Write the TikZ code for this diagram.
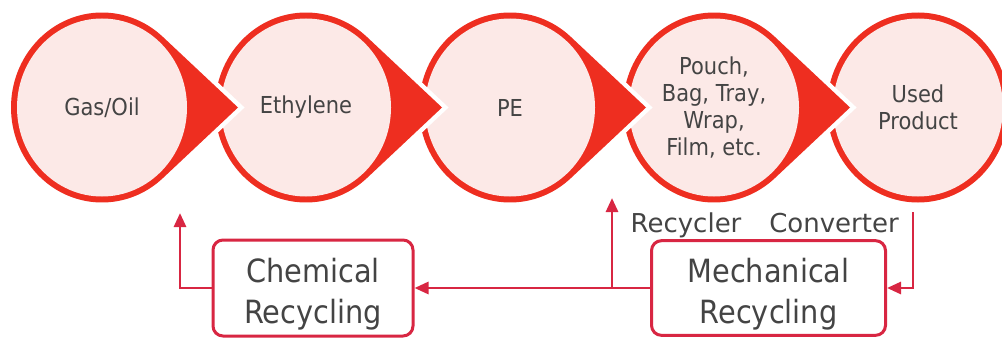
\documentclass[tikz,border=0pt]{standalone}
\usepackage{fontspec}
\setmainfont{DejaVu Sans}
\newfontfamily\condfont[FakeStretch=0.9]{DejaVu Sans}
\usetikzlibrary{arrows.meta,calc}
\definecolor{dropred}{RGB}{238,46,32}
\definecolor{droppink}{RGB}{252,233,231}
\definecolor{crim}{RGB}{216,38,66}
\definecolor{txtgray}{RGB}{68,68,68}
\newcommand\boxtwo[2]{\raisebox{4.5pt}[0pt][0pt]{\begin{tabular}[t]{@{}c@{}}#1\\#2\end{tabular}}}
\begin{document}
\begin{tikzpicture}[x=0.75pt,y=0.75pt,
  ctext/.style={font=\condfont\fontsize{17.5}{20.25}\selectfont, text=txtgray, align=center, inner sep=0pt},
  rbox/.style={draw=crim, line width=2.25pt, rounded corners=7.5pt, fill=white, inner sep=0pt,
    font=\condfont\fontsize{24}{30.75}\selectfont, text=txtgray},
  link/.style={draw=crim, line width=2.1pt, -{Triangle[length=10.5pt,width=9pt]}},
  lbl/.style={font=\fontsize{19.5}{23}\selectfont, text=txtgray, inner sep=0pt}]
\useasboundingbox (0,0) rectangle (1002,358);
\begin{scope}
\clip (0,0) rectangle (1002,358);
\fill[dropred] (918,250.5) ellipse [x radius=68.25pt, y radius=71.25pt];
\fill[droppink] (918,250.5) ellipse [x radius=63.75pt, y radius=66.75pt];
\foreach \cx in {714,510,306,102} {
  \fill[dropred, preaction={draw=white, line width=6.75pt}]
    (\cx+136,250.5) -- ($(\cx,250.5)+(48:68.25pt and 71.25pt)$)
    arc[start angle=48, end angle=312, x radius=68.25pt, y radius=71.25pt] -- cycle;
  \fill[droppink] (\cx,250.5) ellipse [x radius=63.75pt, y radius=66.75pt];
}
\end{scope}
\node[ctext] (gas) at (102,250.5) {Gas/Oil};
\node[ctext] (eth) at (306,250.5) {Ethylene};
\node[ctext] (pe) at (510,250.5) {PE};
\node[ctext] (pouch) at (714,250.5) {Pouch,\\Bag, Tray,\\Wrap,\\Film, etc.};
\node[ctext] (used) at (918,250.5) {Used\\Product};
\node[rbox, minimum width=150pt, minimum height=72pt] (chem) at (313,70) {\boxtwo{Chemical}{Recycling}};
\node[rbox, minimum width=175.5pt, minimum height=71pt] (mech) at (768.5,70) {\boxtwo{Mechanical}{Recycling}};
\coordinate (chemtip) at (180,145);
\draw[link] (chem.west) -| (chemtip);
\draw[link] (mech.west) -- (chem.east);
\coordinate (rjoin) at (612,70);
\coordinate (rtip) at (612,160);
\draw[link] (rjoin) -- (rtip);
\coordinate (cstart) at (913,146);
\draw[link] (cstart) |- (mech.east);
\node[lbl, anchor=base] (recy) at (686,126) {Recycler};
\node[lbl, anchor=base] (conv) at (834,126) {Converter};
\end{tikzpicture}
\end{document}
